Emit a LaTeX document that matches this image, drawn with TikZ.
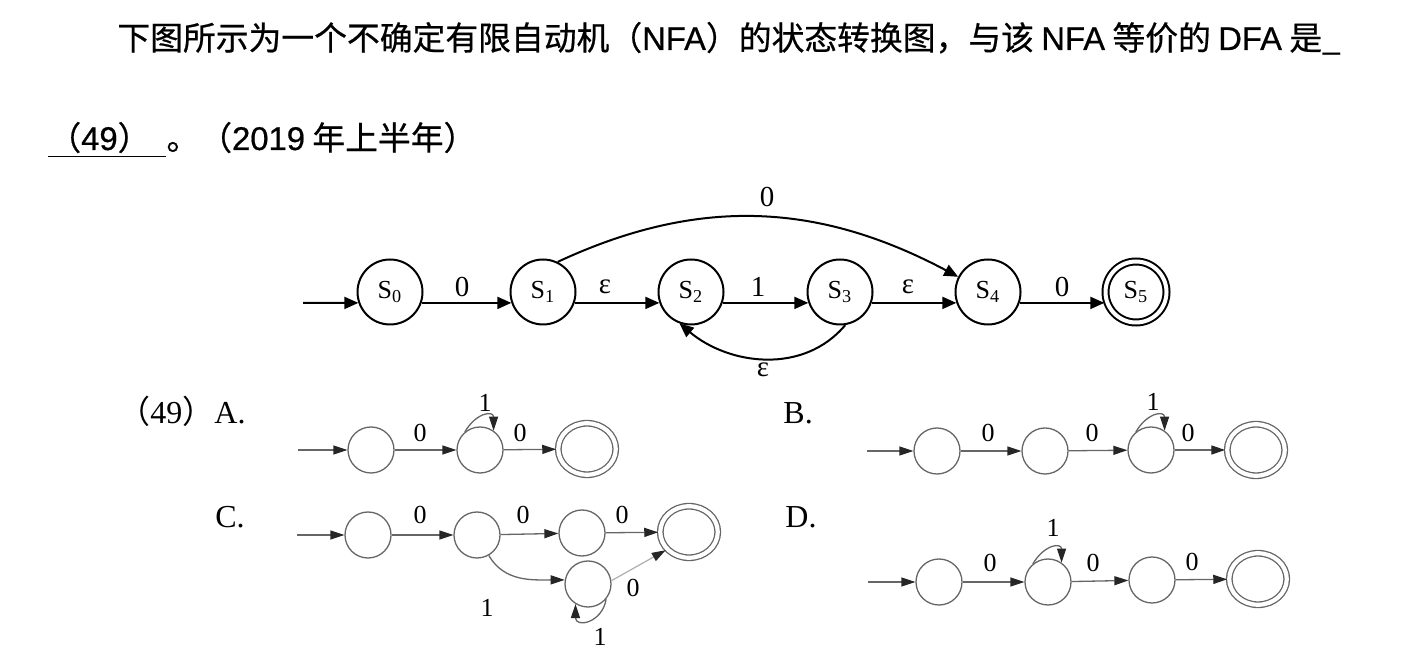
\documentclass[tikz,border=0pt]{standalone}
\usepackage{fontspec}
\setmainfont{Liberation Serif}
\newfontfamily\cjk{Noto Sans CJK SC}
\newfontfamily\qcjk{Noto Sans CJK SC}[FakeBold=0.6]
\newfontfamily\qlat{Liberation Sans}[FakeBold=0.6]
\usetikzlibrary{arrows.meta, shapes.geometric}
\tikzset{
  state/.style={circle, draw=black, line width=1pt, minimum size=32.5pt, inner sep=0pt, font=\fontsize{13}{13}\selectfont},
  accept/.style={state, double, double distance=2pt, minimum size=30.5pt, outer sep=1.5pt},
  small/.style={circle, draw=black!60, line width=0.65pt, minimum size=23pt, inner sep=0pt},
  smallacc/.style={ellipse, draw=black!60, line width=0.65pt, double, double distance=2.1pt, minimum width=28.75pt, minimum height=25.75pt, inner sep=0pt, outer sep=1pt},
  trans/.style={-{Triangle[length=7pt, width=6pt]}, line width=1pt},
  optarrow/.style={-{Triangle[length=7pt, width=4.5pt, color=black!85]}, line width=0.65pt, draw=black!60},
  lbl/.style={font=\fontsize{14.5}{14.5}\selectfont, inner sep=0pt},
  olbl/.style={font=\fontsize{13}{13}\selectfont, inner sep=0pt},
  choice/.style={font=\fontsize{16}{16}\selectfont, inner sep=0pt, anchor=base west},
  question/.style={font=\qcjk\fontsize{16.4}{16.4}\selectfont, inner sep=0pt, anchor=base west}
}
\begin{document}
\begin{tikzpicture}[x=0.5pt, y=0.5pt]
  \useasboundingbox (0,0) rectangle (1423,-656);

  % question text
  \node[question] (q1) at (117,-50) {下图所示为一个不确定有限自动机（{\qlat NFA}）的状态转换图，与该 {\qlat NFA} 等价的 {\qlat DFA} 是\_};
  \node[question] (q2) at (48,-150) {\underline{（{\qlat 49}）\hspace{8pt}}。（{\qlat 2019} 年上半年）};

  % NFA
  \node[state] (S0) at (390,-292) {S\textsubscript{0}};
  \node[state] (S1) at (543,-292) {S\textsubscript{1}};
  \node[state] (S2) at (691,-292) {S\textsubscript{2}};
  \node[state] (S3) at (840,-292) {S\textsubscript{3}};
  \node[state] (S4) at (988,-292) {S\textsubscript{4}};
  \node[accept] (S5) at (1136,-292) {S\textsubscript{5}};
  \coordinate (init) at (303,-303);

  \draw[trans] (init) -- (S0.199.5);
  \draw[trans] (S0.-19.5) -- (S1.199.5);
  \draw[trans] (S1.-19.5) -- (S2.199.5);
  \draw[trans] (S2.-19.5) -- (S3.199.5);
  \draw[trans] (S3.-19.5) -- (S4.199.5);
  \draw[trans] (S4.-19.5) -- (S5.199.5);
  \draw[trans] (S1.64) to[out=25, in=152] (S4.153);
  \draw[trans] (S3.-81) to[out=230, in=-40] (S2.-110);

  \node[lbl] (t01) at (462,-287) {0};
  \node[lbl] (t12) at (605,-287) {ε};
  \node[lbl] (t23) at (758,-287) {1};
  \node[lbl] (t34) at (908,-287) {ε};
  \node[lbl] (t45) at (1062,-287) {0};
  \node[lbl] (t14) at (767,-197) {0};
  \node[lbl] (t32) at (763,-370) {ε};

  % choices
  \node[choice] (optA) at (118,-424) {{\cjk （}49{\cjk ）}A.};
  \node[choice] (optB) at (783,-424) {B.};
  \node[choice] (optC) at (215,-528) {C.};
  \node[choice] (optD) at (785,-528) {D.};

  % A
  \coordinate (a0) at (298,-450);
  \node[small] (a1) at (371,-450) {};
  \node[small] (a2) at (480,-450) {};
  \node[smallacc] (a3) at (587,-449) {};
  \draw[optarrow] (a0) -- (a1);
  \draw[optarrow] (a1) -- (a2);
  \draw[optarrow] (a2) -- (a3);
  \draw[optarrow] (a2.130) .. controls +(12,20) and +(0,20) .. (a2.55);
  \node[olbl] (la1) at (420,-433) {0};
  \node[olbl] (la2) at (485,-403) {1};
  \node[olbl] (la3) at (520,-433) {0};

  % B
  \coordinate (b0) at (867,-451);
  \node[small] (b1) at (937,-451) {};
  \node[small] (b2) at (1045,-451) {};
  \node[small] (b3) at (1151,-450) {};
  \node[smallacc] (b4) at (1256,-450) {};
  \draw[optarrow] (b0) -- (b1);
  \draw[optarrow] (b1) -- (b2);
  \draw[optarrow] (b2) -- (b3);
  \draw[optarrow] (b3) -- (b4);
  \draw[optarrow] (b3.130) .. controls +(12,20) and +(0,20) .. (b3.55);
  \node[olbl] (lb1) at (988,-433) {0};
  \node[olbl] (lb2) at (1092,-433) {0};
  \node[olbl] (lb3) at (1153,-402) {1};
  \node[olbl] (lb4) at (1188,-433) {0};

  % C
  \coordinate (c0) at (297,-535);
  \node[small] (c1) at (368,-535) {};
  \node[small] (c2) at (477,-535) {};
  \node[small] (c3) at (582,-533) {};
  \node[smallacc] (c4) at (689,-532) {};
  \node[small] (c5) at (588,-584) {};
  \draw[optarrow] (c0) -- (c1);
  \draw[optarrow] (c1) -- (c2);
  \draw[optarrow] (c2) -- (c3);
  \draw[optarrow] (c3) -- (c4);
  \draw[optarrow] (c2.-60) to[out=-60, in=180] (c5.170);
  \draw[optarrow, draw=black!30] (c5.8) -- (c4.218);
  \draw[optarrow] (c5.-40) .. controls +(-4,-24) and +(0,-24) .. (c5.-122);
  \node[olbl] (lc1) at (420,-515) {0};
  \node[olbl] (lc2) at (523,-515) {0};
  \node[olbl] (lc3) at (622,-515) {0};
  \node[olbl] (lc4) at (487,-608) {1};
  \node[olbl] (lc5) at (633,-588) {0};
  \node[olbl] (lc6) at (600,-637) {1};

  % D
  \coordinate (d0) at (868,-582);
  \node[small] (d1) at (939,-582) {};
  \node[small] (d2) at (1048,-582) {};
  \node[small] (d3) at (1152,-580) {};
  \node[smallacc] (d4) at (1258,-579) {};
  \draw[optarrow] (d0) -- (d1);
  \draw[optarrow] (d1) -- (d2);
  \draw[optarrow] (d2) -- (d3);
  \draw[optarrow] (d3) -- (d4);
  \draw[optarrow] (d2.130) .. controls +(12,20) and +(0,20) .. (d2.55);
  \node[olbl] (ld1) at (990,-563) {0};
  \node[olbl] (ld2) at (1053,-528) {1};
  \node[olbl] (ld3) at (1093,-563) {0};
  \node[olbl] (ld4) at (1192,-562) {0};
\end{tikzpicture}
\end{document}
